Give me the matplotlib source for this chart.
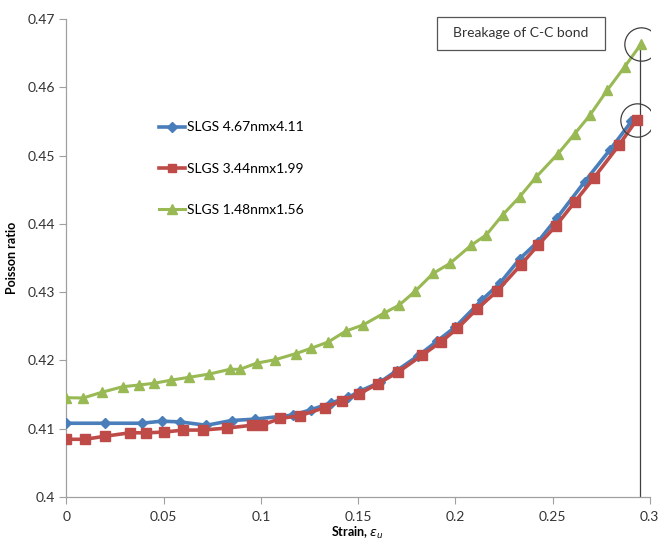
import matplotlib
matplotlib.use("Agg")
import matplotlib.pyplot as plt
from matplotlib.patches import Rectangle
from matplotlib.ticker import FuncFormatter

plt.rcParams['font.family'] = ['Lato', 'DejaVu Sans']

''' Data read off the reference
'''
blue_x = [0, 0.0198, 0.0387, 0.0489, 0.0584, 0.072, 0.0849, 0.0969, 0.1166, 0.126,
          0.1363, 0.145, 0.1509, 0.1612, 0.1698, 0.181, 0.1905, 0.2, 0.2135, 0.2232,
          0.2332, 0.2425, 0.2521, 0.2666, 0.2794, 0.2906, 0.2932]
blue_y = [0.4108, 0.4108, 0.4108, 0.4111, 0.4110, 0.4105, 0.4112, 0.4114, 0.4120, 0.4128,
          0.4138, 0.4146, 0.4155, 0.4168, 0.4185, 0.4207, 0.4228, 0.4249, 0.4288, 0.4314,
          0.4349, 0.4374, 0.4408, 0.4462, 0.4508, 0.4550, 0.4552]

red_x = [0, 0.0095, 0.0198, 0.0326, 0.0409, 0.0501, 0.06, 0.07, 0.0827, 0.0952,
         0.1004, 0.1098, 0.12, 0.1329, 0.1415, 0.1505, 0.1603, 0.1706, 0.1831, 0.1925,
         0.2011, 0.211, 0.2213, 0.2337, 0.2426, 0.2517, 0.2614, 0.2712, 0.2841, 0.2932]
red_y = [0.40845, 0.40845, 0.4089, 0.4094, 0.4094, 0.4095, 0.4098, 0.4098, 0.4101, 0.4105,
         0.4105, 0.4115, 0.4119, 0.4131, 0.4141, 0.4151, 0.4166, 0.4183, 0.4208, 0.4227,
         0.4247, 0.4275, 0.4301, 0.4340, 0.4369, 0.4397, 0.4432, 0.4467, 0.4515, 0.4552]

green_x = [0, 0.0086, 0.0181, 0.0289, 0.0374, 0.045, 0.0536, 0.0631, 0.0734, 0.084,
           0.0892, 0.0978, 0.1072, 0.118, 0.126, 0.1346, 0.1437, 0.1526, 0.1632, 0.1711,
           0.1792, 0.1886, 0.1972, 0.2083, 0.216, 0.2243, 0.2332, 0.2417, 0.2529, 0.2614,
           0.2692, 0.2782, 0.2871, 0.2957]
green_y = [0.41454, 0.4145, 0.41533, 0.41615, 0.4164, 0.41665, 0.4171, 0.41753, 0.4180, 0.4187,
           0.4187, 0.4196, 0.4201, 0.4210, 0.4218, 0.4227, 0.4243, 0.4252, 0.4269, 0.4281,
           0.4301, 0.43275, 0.4342, 0.4369, 0.4384, 0.4413, 0.4440, 0.4469, 0.4503, 0.4532,
           0.4559, 0.4596, 0.4630, 0.4664]

labels = ['SLGS 4.67nmx4.11', 'SLGS 3.44nmx1.99', 'SLGS 1.48nmx1.56']
break_x = 0.295
x_ticks = [0, 0.05, 0.1, 0.15, 0.2, 0.25, 0.3]
y_ticks = [0.4, 0.41, 0.42, 0.43, 0.44, 0.45, 0.46, 0.47]

''' Plot
'''
fig = plt.figure(figsize=(6.63, 5.45), dpi=100)
ax = fig.add_axes([0.1003, 0.0881, 0.8797, 0.877])

ax.plot(blue_x, blue_y, color='#4a7ebb', lw=2.6, marker='D', ms=5.5, label=labels[0], zorder=3)
ax.plot(red_x, red_y, color='#be4b48', lw=2.6, marker='s', ms=7, label=labels[1], zorder=4)
ax.plot(green_x, green_y, color='#98b954', lw=2.2, marker='^', ms=7.5, label=labels[2], zorder=3)

# bond breakage marker line and circles
ax.plot([break_x, break_x], [0.4, green_y[-1]], color='#404040', lw=0.9, zorder=2)
ax.plot([green_x[-1], red_x[-1]], [green_y[-1], red_y[-1]], ls='none', marker='o', ms=24,
        mfc='none', mec='#404040', mew=0.9, zorder=5)

ax.add_patch(Rectangle((0.635, 0.935), 0.288, 0.069, transform=ax.transAxes, fc='white',
                       ec='#555555', lw=0.9, clip_on=False, zorder=6))
ax.text(0.779, 0.971, 'Breakage of C-C bond', transform=ax.transAxes, ha='center', va='center',
        fontsize=10, color='#333333', zorder=7)

ax.set_xlim(0, 0.3)
ax.set_ylim(0.4, 0.47)
ax.set_xticks(x_ticks)
ax.set_yticks(y_ticks)
ax.xaxis.set_major_formatter(FuncFormatter(lambda v, p: '%g' % round(v, 3)))
ax.yaxis.set_major_formatter(FuncFormatter(lambda v, p: '%g' % round(v, 3)))
ax.tick_params(labelsize=10, colors='#333333', length=5, width=0.8, color='#a0a0a0')
ax.tick_params(axis='x', pad=5)
for s in ['top', 'right']:
    ax.spines[s].set_visible(False)
for s in ['left', 'bottom']:
    ax.spines[s].set_color('#a0a0a0')
    ax.spines[s].set_linewidth(0.9)

ax.set_xlabel(r'Strain, $\varepsilon_u$', fontsize=9, fontweight='bold')
ax.set_ylabel('Poisson ratio', fontsize=9, fontweight='bold')
ax.xaxis.label.set_va('center')
ax.xaxis.set_label_coords(0.498, -0.076)
ax.yaxis.set_label_coords(-0.083, 0.5)

ax.legend(loc='upper left', bbox_to_anchor=(0.137, 0.812), frameon=False, fontsize=10,
          handlelength=1.9, handletextpad=0.15, labelspacing=2.1, markerscale=0.9)

fig.savefig('out.png', dpi=100)
